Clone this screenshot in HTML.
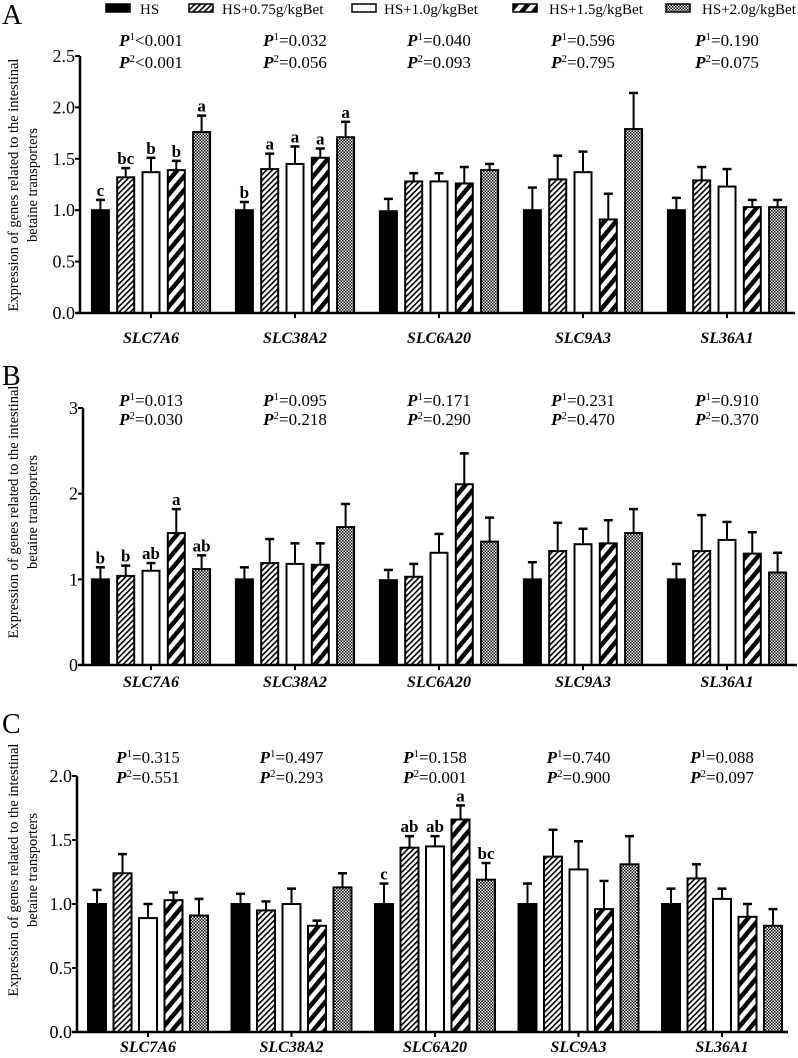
<!DOCTYPE html>
<html><head><meta charset="utf-8"><style>
html,body{margin:0;padding:0;background:#fff}
svg{display:block}
text{font-family:"Liberation Serif",serif;fill:#000}
</style></head><body>
<svg id="chart" width="798" height="1058" viewBox="0 0 798 1058" xmlns="http://www.w3.org/2000/svg">
<defs>
<pattern id="pHatch" patternUnits="userSpaceOnUse" width="4" height="4" patternTransform="rotate(45)"><rect width="4" height="4" fill="#fff"/><rect width="1.6" height="4" fill="#000"/></pattern>
<pattern id="pDiag" patternUnits="userSpaceOnUse" width="9" height="9" patternTransform="rotate(40)"><rect width="9" height="9" fill="#fff"/><rect width="4.5" height="9" fill="#000"/></pattern>
<pattern id="pDots" patternUnits="userSpaceOnUse" width="3" height="3"><rect width="3" height="3" fill="#fff"/><rect width="1.5" height="1.5" fill="#000"/><rect x="1.5" y="1.5" width="1.5" height="1.5" fill="#000"/></pattern>
</defs>
<g id="legend"></g>
<g id="panels"></g>
</svg>
<script>
const genes = ["SLC7A6","SLC38A2","SLC6A20","SLC9A3","SL36A1"];
const seriesNames = ["HS","HS+0.75g/kgBet","HS+1.0g/kgBet","HS+1.5g/kgBet","HS+2.0g/kgBet"];
// Panel A means / upper error
const meanA = [[1.0,1.32,1.37,1.39,1.76],[1.0,1.40,1.45,1.51,1.71],[0.99,1.28,1.28,1.26,1.39],[1.0,1.30,1.37,0.91,1.79],[1.0,1.29,1.23,1.03,1.03]];
const errA  = [[1.10,1.41,1.51,1.48,1.92],[1.08,1.55,1.62,1.60,1.86],[1.11,1.36,1.36,1.42,1.45],[1.22,1.53,1.57,1.16,2.14],[1.12,1.42,1.40,1.10,1.10]];
const letA  = [["c","bc","b","b","a"],["b","a","a","a","a"],["","","","",""],["","","","",""],["","","","",""]];
const pA = [["<0.001","<0.001"],["=0.032","=0.056"],["=0.040","=0.093"],["=0.596","=0.795"],["=0.190","=0.075"]];
const ticksA = ["0.0","0.5","1.0","1.5","2.0","2.5"];
// Panel B
const meanB = [[1.0,1.04,1.10,1.54,1.12],[1.0,1.19,1.18,1.17,1.61],[0.99,1.03,1.31,2.11,1.44],[1.0,1.33,1.41,1.42,1.54],[1.0,1.33,1.46,1.30,1.08]];
const errB  = [[1.14,1.16,1.19,1.82,1.28],[1.14,1.47,1.42,1.42,1.88],[1.11,1.18,1.53,2.47,1.72],[1.20,1.66,1.59,1.69,1.82],[1.18,1.75,1.67,1.55,1.31]];
const letB  = [["b","b","ab","a","ab"],["","","","",""],["","","","",""],["","","","",""],["","","","",""]];
const pB = [["=0.013","=0.030"],["=0.095","=0.218"],["=0.171","=0.290"],["=0.231","=0.470"],["=0.910","=0.370"]];
const ticksB = ["0","1","2","3"];
// Panel C
const meanC = [[1.0,1.24,0.89,1.03,0.91],[1.0,0.95,1.0,0.83,1.13],[1.0,1.44,1.45,1.66,1.19],[1.0,1.37,1.27,0.96,1.31],[1.0,1.20,1.04,0.90,0.83]];
const errC  = [[1.11,1.39,1.0,1.09,1.04],[1.08,1.02,1.12,0.87,1.24],[1.16,1.53,1.53,1.77,1.32],[1.16,1.58,1.49,1.18,1.53],[1.12,1.31,1.12,1.00,0.96]];
const letC  = [["","","","",""],["","","","",""],["c","ab","ab","a","bc"],["","","","",""],["","","","",""]];
const pC = [["=0.315","=0.551"],["=0.497","=0.293"],["=0.158","=0.001"],["=0.740","=0.900"],["=0.088","=0.097"]];
const ticksC = ["0.0","0.5","1.0","1.5","2.0"];

const NS="http://www.w3.org/2000/svg";
const fills=["#000","url(#pHatch)","#fff","url(#pDiag)","url(#pDots)"];
function mk(tag,attrs,parent){const e=document.createElementNS(NS,tag);for(const k in attrs)e.setAttribute(k,attrs[k]);parent.appendChild(e);return e;}

const panels=[
 {key:"a",letter:"A",letterY:24,x0:80,xEnd:795,y0:313,yTop:56,max:2.5,centers0:151,gstep:144,bstep:25.3,bw:17,ticks:ticksA,mean:meanA,err:errA,lets:letA,p:pA,pY:[46,68],labY:343,titleC:185},
 {key:"b",letter:"B",letterY:385,x0:83,xEnd:797,y0:665,yTop:408,max:3,centers0:151,gstep:144,bstep:25.3,bw:17,ticks:ticksB,mean:meanB,err:errB,lets:letB,p:pB,pY:[406,425],labY:687,titleC:512},
 {key:"c",letter:"C",letterY:733,x0:77,xEnd:788,y0:1032,yTop:776,max:2.0,centers0:148,gstep:143.5,bstep:25.5,bw:18,ticks:ticksC,mean:meanC,err:errC,lets:letC,p:pC,pY:[763,783],labY:1052,titleC:870}
];
const root=document.getElementById('panels');
panels.forEach(P=>{
 const g=mk('g',{},root);
 
 
 const yS=v=>P.y0-(v/P.max)*(P.y0-P.yTop);
 const xC=(gi,si)=>P.centers0+gi*P.gstep+(si-2)*P.bstep;
 const L=mk('text',{x:2,y:P.letterY,'font-size':28},g);L.textContent=P.letter;
 
 
 const t=mk('text',{transform:`translate(18,${P.titleC}) rotate(-90)`,'text-anchor':'middle','font-size':14.5},g);
 
 
 mk('tspan',{x:0,y:0},t).textContent="Expression of genes related to the intestinal";
 mk('tspan',{x:0,y:19},t).textContent="betaine transporters";
 P.mean.forEach((row,gi)=>{
  row.forEach((v,si)=>{
   const cx=xC(gi,si), top=yS(v), et=yS(P.err[gi][si]);
   const eb=mk('line',{x1:cx,x2:cx,y1:top,y2:et,stroke:'#000','stroke-width':2},g);
   
   
   mk('line',{x1:cx-4.5,x2:cx+4.5,y1:et,y2:et,stroke:'#000','stroke-width':2.5},g);
   const r=mk('rect',{x:cx-P.bw/2,y:top,width:P.bw,height:P.y0-top,fill:fills[si],stroke:'#000','stroke-width':2},g);
   
   
   const lt=P.lets[gi][si];
   if(lt){const tx=mk('text',{x:cx,y:et-4,'text-anchor':'middle','font-size':17,'font-weight':'bold'},g);tx.textContent=lt;
    
    }
  });
  const cc=P.centers0+gi*P.gstep;
  mk('line',{x1:cc,x2:cc,y1:P.y0,y2:P.y0+5,stroke:'#000','stroke-width':2},g);
  const gl=mk('text',{x:cc,y:P.labY,'text-anchor':'middle','font-size':16,'font-weight':'bold','font-style':'italic'},g);gl.textContent=genes[gi];
  
  
  P.p[gi].forEach((pv,k)=>{
   const pt=mk('text',{x:cc,y:P.pY[k],'text-anchor':'middle','font-size':17},g);
   
   
   const a=mk('tspan',{'font-style':'italic','font-weight':'bold'},pt);a.textContent="P";
   const b=mk('tspan',{'font-size':11,dy:-6},pt);b.textContent=String(k+1);
   const c=mk('tspan',{dy:6},pt);c.textContent=pv;
  });
 });
 const ya=mk('line',{x1:P.x0,x2:P.x0,y1:P.yTop,y2:P.y0,stroke:'#000','stroke-width':2.5},g);
 
 
 const xa=mk('line',{x1:P.x0-5,x2:P.xEnd,y1:P.y0,y2:P.y0,stroke:'#000','stroke-width':2.5},g);
 
 
 P.ticks.forEach(tl=>{
  const v=parseFloat(tl), y=yS(v);
  mk('line',{x1:P.x0-5,x2:P.x0,y1:y,y2:y,stroke:'#000','stroke-width':2},g);
  const tt=mk('text',{x:P.x0-5,y:y+6,'text-anchor':'end','font-size':18},g);tt.textContent=tl;
  
  
 });
});
const lg=document.getElementById('legend');
const lx=[106,189,352,513,666], tx=[140,222,384,549,702];
seriesNames.forEach((n,i)=>{
 const r=mk('rect',{x:lx[i],y:4,width:24,height:8,fill:fills[i],stroke:'#000','stroke-width':1.5},lg);
 
 
 const t=mk('text',{x:tx[i],y:14,'font-size':15},lg);t.textContent=n;
 
 
});
</script>
</body></html>
